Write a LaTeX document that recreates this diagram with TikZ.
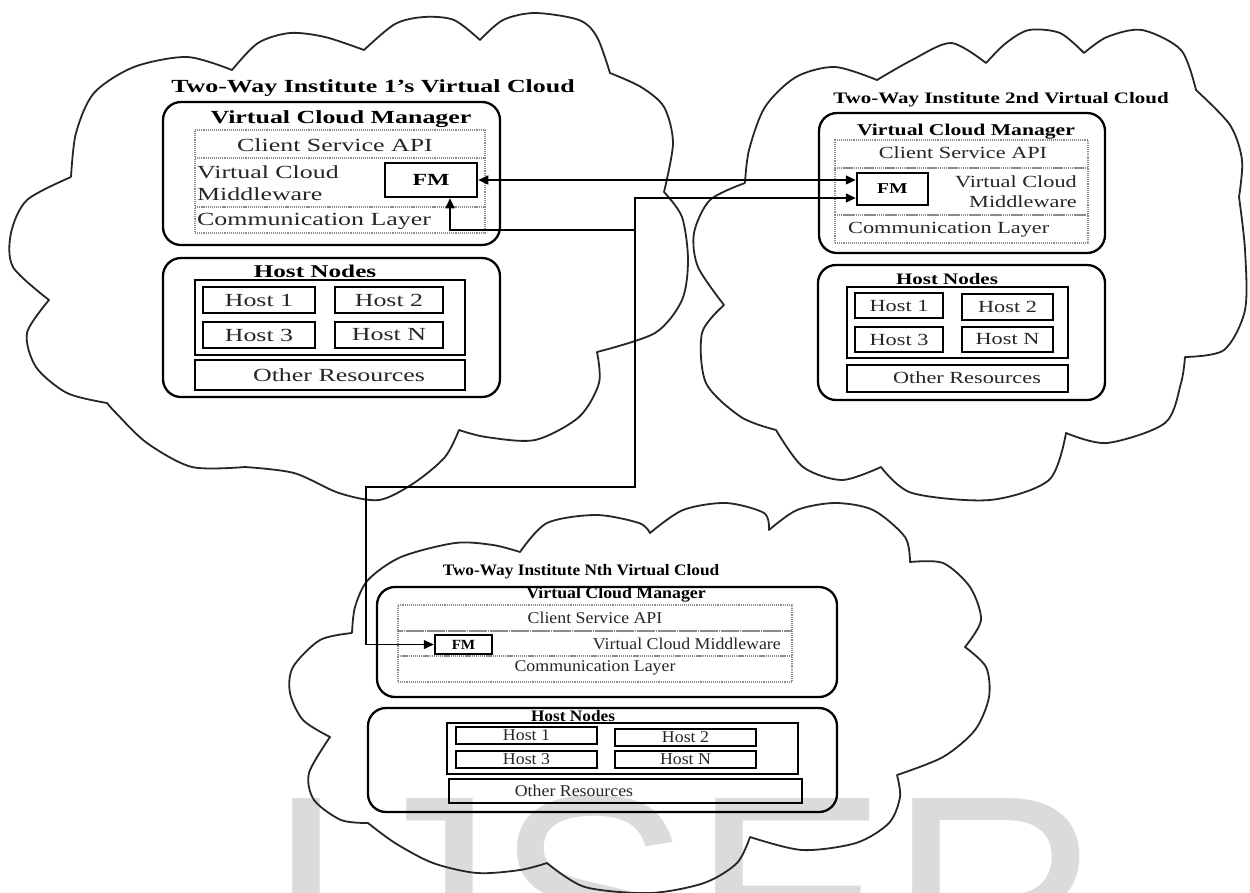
\documentclass[tikz,border=0pt]{standalone}
\usepackage{fontspec}
\setmainfont{Liberation Serif}
\newfontfamily\wmfont{Liberation Sans}
\usepackage{graphicx}
\usetikzlibrary{arrows.meta}

% horizontally widened lettering, one width per cloud
\newcommand\stA[1]{\scalebox{1.4}[1]{#1}}
\newcommand\stB[1]{\scalebox{1.31}[1]{#1}}
\newcommand\stC[1]{\scalebox{1.08}[1]{#1}}

% box given by its two corners (x1,y1) (x2,y2)
\newcommand\boxnode[7]{%
  \node[#2, minimum width={(#5)-(#3)}, minimum height={(#6)-(#4)}]
    (#1) at ({((#3)+(#5))/2},{((#4)+(#6))/2}) {#7};}

\begin{document}
\begin{tikzpicture}[x=1pt, y=-1pt,
  cloudline/.style={line width=1.8pt, black!85, line join=round},
  panel/.style={draw, line width=2.3pt, rounded corners=18pt, inner sep=0pt},
  layer/.style={draw=black!45, densely dotted, line width=1.1pt, inner sep=0pt},
  fmbox/.style={draw, line width=2.5pt, inner sep=0pt},
  hostbox/.style={draw, line width=2.3pt, inner sep=0pt},
  grpbox/.style={draw, line width=2.6pt, inner sep=0pt},
  link/.style={line width=1.4pt, -{Triangle[length=10pt,width=9pt]}},
  twoway/.style={line width=1.4pt, {Triangle[length=10pt,width=9pt]}-{Triangle[length=10pt,width=9pt]}},
  fa/.style={font=\fontsize{18.5}{20}\selectfont, text=black!85, inner sep=0pt},
  fb/.style={font=\fontsize{17}{19}\selectfont, text=black!85, inner sep=0pt},
  fc/.style={font=\fontsize{16.5}{18}\selectfont, text=black!85, inner sep=0pt},
]
\useasboundingbox (0,0) rectangle (1250,892);
\fill[white] (0,0) rectangle (1250,892);

% ---------------- grey lettering behind the drawing ----------------
\begin{scope}
  \clip (0,0) rectangle (1250,892);
  \node[anchor=base west, inner sep=0pt, text=black!14,
        font=\fontsize{295}{295}\selectfont\wmfont] (wm) at (265,1001) {IJSER};
\end{scope}

% ---------------- cloud outlines ----------------
\draw[cloudline]
  plot[smooth] coordinates {(71,177) (76,133) (94,93) (134,67) (187,57) (232,70)}
  -- plot[smooth] coordinates {(232,70) (258,43) (290,33) (325,37) (364,50)}
  -- plot[smooth] coordinates {(364,50) (395,24) (424,17) (454,20) (480,40)}
  -- plot[smooth] coordinates {(480,40) (503,20) (535,13) (579,20) (597,37) (610,73)}
  -- plot[smooth] coordinates {(610,73) (641,87) (664,107) (673,143) (664,192)}
  -- plot[smooth] coordinates {(664,192) (682,217) (688,260) (682,300) (655,333) (597,352)}
  -- plot[smooth] coordinates {(597,352) (599,383) (579,417) (535,440) (486,437) (459,430)}
  -- plot[smooth] coordinates {(459,430) (445,457) (414,483) (379,500) (339,493) (294,473) (245,467)}
  -- plot[smooth] coordinates {(245,467) (192,467) (147,443) (116,413) (107,403)}
  -- plot[smooth] coordinates {(107,403) (67,393) (36,367) (27,333) (49,300)}
  -- plot[smooth] coordinates {(49,300) (13,267) (11,233) (27,200) (71,177)};

\draw[cloudline]
  plot[smooth] coordinates {(745,183) (710,200) (694,233) (698,267) (724,305)}
  -- plot[smooth] coordinates {(724,305) (702,333) (706,383) (741,417) (776,430)}
  -- plot[smooth] coordinates {(776,430) (803,467) (842,480) (881,467)}
  -- plot[smooth] coordinates {(881,467) (912,493) (990,500) (1049,480) (1066,433)}
  -- plot[smooth] coordinates {(1066,433) (1107,443) (1165,423) (1181,383) (1185,357)}
  -- plot[smooth] coordinates {(1185,357) (1224,350) (1245,310) (1245,250) (1239,197)}
  -- plot[smooth] coordinates {(1239,197) (1242,160) (1230,125) (1196,90)}
  -- plot[smooth] coordinates {(1196,90) (1181,50) (1142,30) (1107,37) (1084,53)}
  -- plot[smooth] coordinates {(1084,53) (1060,33) (1029,30) (1006,43) (986,63)}
  -- plot[smooth] coordinates {(986,63) (951,43) (912,60) (877,80)}
  -- plot[smooth] coordinates {(877,80) (835,67) (796,77) (765,107) (749,150) (745,183)};

\draw[cloudline]
  plot[smooth] coordinates {(352,633) (355,607) (368,580) (401,557) (455,543) (493,545) (520,552)}
  -- plot[smooth] coordinates {(520,552) (547,523) (596,515) (639,523) (650,533)}
  -- plot[smooth] coordinates {(650,533) (683,510) (726,503) (764,513) (769,530)}
  -- plot[smooth] coordinates {(769,530) (797,510) (835,503) (873,510) (905,537) (910,562)}
  -- plot[smooth] coordinates {(910,562) (943,563) (970,587) (981,620) (965,647)}
  -- plot[smooth] coordinates {(965,647) (986,667) (989,697) (975,730) (943,757) (897,775)}
  -- plot[smooth] coordinates {(897,775) (900,797) (889,823) (856,843) (802,850) (750,837)}
  -- plot[smooth] coordinates {(750,837) (737,863) (704,883) (650,893) (585,887) (547,863)}
  -- plot[smooth] coordinates {(547,863) (520,870) (477,873) (433,863) (395,843) (368,823)}
  -- plot[smooth] coordinates {(368,823) (341,820) (314,800) (309,773) (330,737)}
  -- plot[smooth] coordinates {(330,737) (303,720) (290,693) (293,667) (320,640) (352,633)};

% ---------------- institute 1 ----------------
\node[fa, font=\fontsize{18.5}{20}\selectfont\bfseries, text=black] (t1) at (373,88) {\stA{Two-Way Institute 1’s Virtual Cloud}};
\boxnode{m1}{panel}{163}{102}{500}{245}{}
\node[fa, font=\fontsize{18.5}{20}\selectfont\bfseries, text=black] (m1t) at (341,119) {\stA{Virtual Cloud Manager}};
\boxnode{a1}{layer}{195}{130}{485}{158}{}
\boxnode{b1}{layer}{195}{158}{485}{207}{}
\boxnode{c1}{layer}{195}{207}{485}{233}{}
\node[fa] (a1t) at (335,145) {\stA{Client Service API}};
\node[fa, anchor=west] (b1t) at (197,172) {\stA{Virtual Cloud}};
\node[fa, anchor=west] (b1u) at (197,194) {\stA{Middleware}};
\node[fa, anchor=west] (c1t) at (197,221) {\stA{Communication Layer}};
\boxnode{fm1}{fmbox}{385}{163}{477}{197}{\fontsize{17}{19}\selectfont\bfseries\stA{FM}}

\boxnode{h1}{panel}{163}{258}{500}{397}{}
\node[fa, font=\fontsize{18}{20}\selectfont\bfseries, text=black] (h1t) at (315,271) {\stA{Host Nodes}};
\boxnode{g1}{grpbox}{195}{280}{465}{355}{}
\boxnode{h1a}{hostbox}{203}{287}{315}{313}{}
\boxnode{h1b}{hostbox}{335}{287}{443}{313}{}
\boxnode{h1c}{hostbox}{203}{322}{315}{348}{}
\boxnode{h1d}{hostbox}{335}{322}{443}{348}{}
\node[fa] at (h1a) {\stA{Host 1}};
\node[fa] at (h1b) {\stA{Host 2}};
\node[fa] at (h1c) {\stA{Host 3}};
\node[fa] at (h1d) {\stA{Host N}};
\boxnode{r1}{hostbox}{195}{360}{465}{390}{}
\node[fa] (r1t) at (339,375) {\stA{Other Resources}};

% ---------------- institute 2 ----------------
\node[fb, font=\fontsize{16}{18}\selectfont\bfseries, text=black] (t2) at (1001,100) {\stB{Two-Way Institute 2nd Virtual Cloud}};
\boxnode{m2}{panel}{819}{113}{1105}{253}{}
\node[fb, font=\fontsize{16.5}{18}\selectfont\bfseries, text=black] (m2t) at (966,132) {\stB{Virtual Cloud Manager}};
\boxnode{a2}{layer}{835}{140}{1088}{168}{}
\boxnode{b2}{layer}{835}{168}{1088}{215}{}
\boxnode{c2}{layer}{835}{215}{1088}{243}{}
\node[fb] (a2t) at (963,153) {\stB{Client Service API}};
\node[fb, anchor=east] (b2t) at (1077,182) {\stB{Virtual Cloud}};
\node[fb, anchor=east] (b2u) at (1077,202) {\stB{Middleware}};
\node[fb, anchor=west] (c2t) at (848,230) {\stB{Communication Layer}};
\boxnode{fm2}{fmbox}{857}{173}{928}{205}{\fontsize{15}{17}\selectfont\bfseries\stB{FM}}

\boxnode{h2}{panel}{818}{265}{1105}{400}{}
\node[fb, font=\fontsize{16}{18}\selectfont\bfseries, text=black] (h2t) at (947,279) {\stB{Host Nodes}};
\boxnode{g2}{grpbox}{847}{287}{1068}{358}{}
\boxnode{h2a}{hostbox}{855}{293}{943}{318}{}
\boxnode{h2b}{hostbox}{962}{294}{1053}{320}{}
\boxnode{h2c}{hostbox}{855}{327}{943}{352}{}
\boxnode{h2d}{hostbox}{962}{327}{1053}{352}{}
\node[fb] at (h2a) {\stB{Host 1}};
\node[fb] at (h2b) {\stB{Host 2}};
\node[fb] at (h2c) {\stB{Host 3}};
\node[fb] at (h2d) {\stB{Host N}};
\boxnode{r2}{hostbox}{847}{365}{1068}{392}{}
\node[fb] (r2t) at (967,378) {\stB{Other Resources}};

% ---------------- institute N ----------------
\node[fc, font=\fontsize{16}{18}\selectfont\bfseries, text=black] (t3) at (581,572) {\stC{Two-Way Institute Nth Virtual Cloud}};
\boxnode{m3}{panel}{377}{587}{837}{697}{}
\node[fc, font=\fontsize{16.5}{18}\selectfont\bfseries, text=black] (m3t) at (616,595) {\stC{Virtual Cloud Manager}};
\boxnode{a3}{layer}{398}{605}{792}{631}{}
\boxnode{b3}{layer}{398}{631}{792}{656}{}
\boxnode{c3}{layer}{398}{656}{792}{682}{}
\node[fc] (a3t) at (595,618) {\stC{Client Service API}};
\node[fc, anchor=east] (b3t) at (781,644) {\stC{Virtual Cloud Middleware}};
\node[fc] (c3t) at (595,668) {\stC{Communication Layer}};
\boxnode{fm3}{fmbox}{435}{635}{492}{654}{\fontsize{14}{16}\selectfont\bfseries\stC{FM}}

\boxnode{h3}{panel}{368}{708}{837}{812}{}
\node[fc, font=\fontsize{16}{18}\selectfont\bfseries, text=black] (h3t) at (573,716) {\stC{Host Nodes}};
\boxnode{g3}{grpbox}{447}{723}{798}{774}{}
\boxnode{h3a}{hostbox}{456}{727}{597}{744}{}
\boxnode{h3b}{hostbox}{615}{729}{756}{746}{}
\boxnode{h3c}{hostbox}{456}{751}{597}{768}{}
\boxnode{h3d}{hostbox}{615}{751}{756}{768}{}
\node[fc] at (h3a) {\stC{Host 1}};
\node[fc] at (h3b) {\stC{Host 2}};
\node[fc] at (h3c) {\stC{Host 3}};
\node[fc] at (h3d) {\stC{Host N}};
\boxnode{r3}{hostbox}{449}{779}{802}{803}{}
\node[fc] (r3t) at (574,791) {\stC{Other Resources}};

% ---------------- federation links ----------------
\draw[twoway] (fm1.east) -- (fm1.east -| fm2.west);
\coordinate (hub) at (635,230);
\coordinate (up2) at (635,198);
\coordinate (in1) at (450,230);
\coordinate (dn) at (635,487);
\coordinate (lf) at (366,487);
\draw[link] (hub) -- (in1) -- (in1 |- fm1.south);
\draw[link] (hub) -- (up2) -- (up2 -| fm2.west);
\draw[link] (hub) -- (dn) -- (lf) -- (lf |- fm3.west) -- (fm3.west);
\end{tikzpicture}
\end{document}
